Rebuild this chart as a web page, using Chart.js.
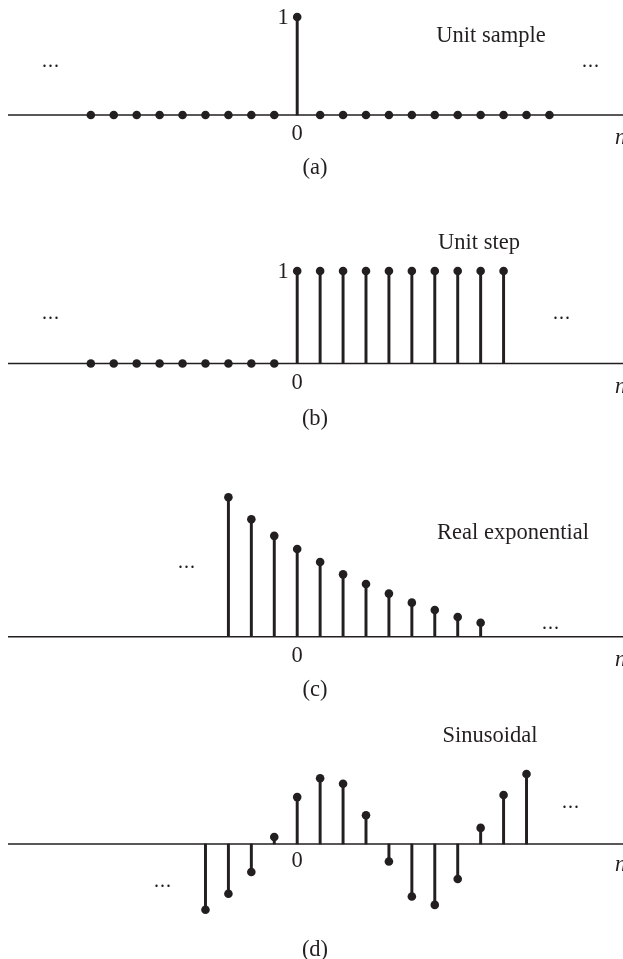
<!DOCTYPE html>
<html>
<head>
<meta charset="utf-8">
<script src="https://cdn.jsdelivr.net/npm/chart.js@4.4.1/dist/chart.umd.min.js"></script>
<style>
  html, body { margin: 0; padding: 0; background: #fff; }
  #wrap { position: relative; width: 623px; height: 959px; overflow: hidden; background: #fff; }
  canvas { position: absolute; left: 0; }
  .t { position: absolute; font-family: 'Liberation Serif', 'Times New Roman', serif; font-size: 22.5px; color: #231f20; line-height: 1; white-space: nowrap; transform: translate(-50%, -50%); }
  .n { font-style: italic; transform: translate(0, -50%); }
  .dots { font-size: 20px; letter-spacing: 1px; }
</style>
</head>
<body>
<div id="wrap">
  <canvas id="ca"></canvas>
  <canvas id="cb"></canvas>
  <canvas id="cc"></canvas>
  <canvas id="cd"></canvas>
</div>
<script>
// ---- data ----
const nA = [-9,-8,-7,-6,-5,-4,-3,-2,-1,0,1,2,3,4,5,6,7,8,9,10,11];
const unitSample = [0,0,0,0,0,0,0,0,0,1,0,0,0,0,0,0,0,0,0,0,0];

const nB = [-9,-8,-7,-6,-5,-4,-3,-2,-1,0,1,2,3,4,5,6,7,8,9];
const unitStep = [0,0,0,0,0,0,0,0,0,1,1,1,1,1,1,1,1,1,1];

const nC = [-3,-2,-1,0,1,2,3,4,5,6,7,8];
const realExp = [1.0,0.842,0.723,0.629,0.536,0.447,0.378,0.309,0.244,0.191,0.141,0.100];

const nD = [-4,-3,-2,-1,0,1,2,3,4,5,6,7,8,9,10];
const sinusoid = [-0.94,-0.71,-0.40,0.10,0.67,0.94,0.86,0.41,-0.25,-0.75,-0.87,-0.50,0.23,0.70,1.0];

const panelTitles = ['Unit sample','Unit step','Real exponential','Sinusoidal'];
const panelLetters = ['(a)','(b)','(c)','(d)'];
const zeroLabel = '0';
const oneLabel = '1';
const ellipsis = '...';
const axisName = 'n';

// ---- layout ----
const W = 623;
const X_MIN = -12.612, X_MAX = 14.208;
const INK = '#231f20';

const panels = [
  { id:'ca', n:nA, v:unitSample, top:0,   h:200, axis:115,   ppu:98 },
  { id:'cb', n:nB, v:unitStep,   top:200, h:270, axis:363.5, ppu:92.5 },
  { id:'cc', n:nC, v:realExp,    top:470, h:250, axis:636.7, ppu:139.5 },
  { id:'cd', n:nD, v:sinusoid,   top:720, h:239, axis:844,   ppu:70 }
];

panels.forEach(p => {
  const cv = document.getElementById(p.id);
  cv.style.top = p.top + 'px';
  cv.width = W; cv.height = p.h;
  cv.style.width = W + 'px'; cv.style.height = p.h + 'px';
  const yMax = (p.axis - p.top) / p.ppu;
  const yMin = -(p.top + p.h - p.axis) / p.ppu;
  const pts = p.n.map((x, i) => ({ x: x, y: p.v[i] }));
  new Chart(cv, {
    type: 'bar',
    data: {
      datasets: [
        { type: 'scatter', data: pts, pointRadius: 4.3, pointHoverRadius: 4.3,
          backgroundColor: INK, borderWidth: 0, clip: false, order: 0 },
        { type: 'bar', data: pts, barThickness: 2.3, backgroundColor: INK,
          borderWidth: 0, clip: false, order: 1 },
        { type: 'line', data: [{ x: X_MIN, y: 0 }, { x: X_MAX, y: 0 }],
          borderColor: INK, borderWidth: 1.5, pointRadius: 0, clip: false, order: 2 }
      ]
    },
    options: {
      responsive: false, animation: false, devicePixelRatio: 1,
      layout: { autoPadding: false, padding: { left: 8, right: 0, top: 0, bottom: 0 } },
      plugins: { legend: { display: false }, tooltip: { enabled: false } },
      events: [],
      scales: {
        x: { type: 'linear', min: X_MIN, max: X_MAX, offset: false, display: false },
        y: { type: 'linear', min: yMin, max: yMax, display: false }
      }
    }
  });
});

// ---- text ----
const wrap = document.getElementById('wrap');
function txt(s, x, y, cls) {
  const d = document.createElement('div');
  d.className = 't' + (cls ? ' ' + cls : '');
  d.textContent = s;
  d.style.left = x + 'px'; d.style.top = y + 'px';
  wrap.appendChild(d);
}
// (a)
txt(oneLabel, 283, 17);
txt(panelTitles[0], 491, 35);
txt(ellipsis, 51, 60, 'dots');
txt(ellipsis, 591, 60, 'dots');
txt(zeroLabel, 297, 133);
txt(axisName, 615, 137, 'n');
txt(panelLetters[0], 315, 167);
// (b)
txt(panelTitles[1], 479, 242);
txt(oneLabel, 283, 271);
txt(ellipsis, 51, 312, 'dots');
txt(ellipsis, 562, 312, 'dots');
txt(zeroLabel, 297, 382);
txt(axisName, 615, 386, 'n');
txt(panelLetters[1], 315, 418);
// (c)
txt(panelTitles[2], 513, 532);
txt(ellipsis, 187, 561, 'dots');
txt(ellipsis, 551, 622, 'dots');
txt(zeroLabel, 297, 655);
txt(axisName, 615, 659, 'n');
txt(panelLetters[2], 315, 689);
// (d)
txt(panelTitles[3], 490, 735);
txt(ellipsis, 571, 801, 'dots');
txt(ellipsis, 163, 880, 'dots');
txt(zeroLabel, 297, 860);
txt(axisName, 615, 864, 'n');
txt(panelLetters[3], 315, 949);
</script>
</body>
</html>
